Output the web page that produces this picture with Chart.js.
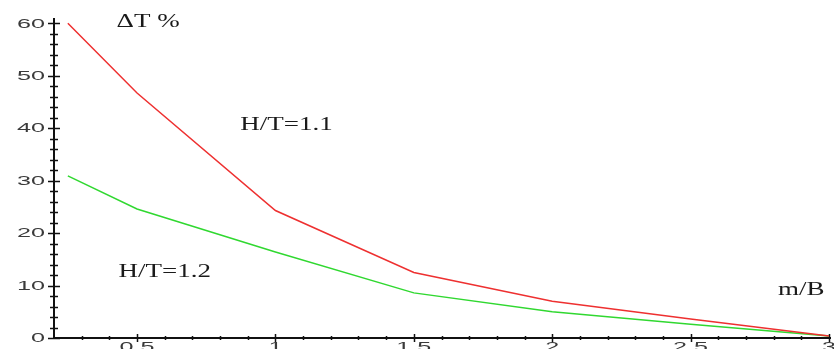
<!DOCTYPE html>
<html>
<head>
<meta charset="utf-8">
<script src="https://cdn.jsdelivr.net/npm/chart.js@4/dist/chart.umd.min.js"></script>
<style>
  html, body { margin: 0; padding: 0; background: #fff; overflow: hidden; }
  #chart { display: block; }
</style>
</head>
<body>
<canvas id="chart" width="834" height="349"></canvas>
<script>
// m/B values and delta T % for the two H/T ratios
var mb = [0.25, 0.5, 1, 1.5, 2, 2.5, 3];
var dtH11 = [60, 46.7, 24.3, 12.5, 7.0, 3.6, 0.4];
var dtH12 = [30.9, 24.6, 16.4, 8.6, 5.0, 2.6, 0.4];

var yTicks = [0, 10, 20, 30, 40, 50, 60];
var xTicks = [0.5, 1, 1.5, 2, 2.5, 3];
var xTickLabels = ["0.5", "1", "1.5", "2", "2.5", "3"];

var xMin = 0.2, xMax = 3, yMax = 61;

// text notes placed in data coordinates
var notes = [
    { text: "\u0394T %", x: 0.54, y: 60.2 },
    { text: "H/T=1.1", x: 1.04, y: 40.6 },
    { text: "H/T=1.2", x: 0.60, y: 12.6 },
    { text: "m/B", x: 2.90, y: 9.1 }
];

function toPoints(xs, ys) {
    return xs.map(function(v, i) { return { x: v, y: ys[i] }; });
}

function wideText(ctx, text, px, py, sx, align) {
    ctx.save();
    ctx.translate(px, py);
    ctx.scale(sx, 1);
    ctx.textAlign = align;
    ctx.fillText(text, 0, 0);
    ctx.restore();
}

var axesPlugin = {
    id: 'axes',
    beforeDatasetsDraw: function(chart) {
        var ctx = chart.ctx;
        var x = chart.scales.x, y = chart.scales.y;
        var x0 = x.getPixelForValue(xMin);
        var y0 = y.getPixelForValue(0);

        ctx.save();
        ctx.strokeStyle = '#111';
        ctx.lineWidth = 2;
        ctx.beginPath();
        ctx.moveTo(x0, y.getPixelForValue(yMax));
        ctx.lineTo(x0, y0);
        ctx.lineTo(x.getPixelForValue(xMax) + 2, y0);
        ctx.stroke();

        ctx.lineWidth = 1.5;
        ctx.beginPath();
        for (var v = 0; v <= 60; v += 2) {
            var p = Math.round(y.getPixelForValue(v)) + 0.5;
            var len = (v % 10 === 0) ? 6 : 4;
            ctx.moveTo(x0 - len, p);
            ctx.lineTo(x0 + len, p);
        }
        for (var k = 3; k <= 30; k++) {
            var q = Math.round(x.getPixelForValue(k / 10)) + 0.5;
            var l2 = (k % 5 === 0) ? 4 : 2;
            ctx.moveTo(q, y0 - l2);
            ctx.lineTo(q, y0 + l2);
        }
        ctx.stroke();

        // tick labels
        ctx.fillStyle = '#3a3a3a';
        ctx.font = '12px "Liberation Sans", Arial, sans-serif';
        ctx.textBaseline = 'middle';
        yTicks.forEach(function(t) {
            wideText(ctx, String(t), x0 - 9, y.getPixelForValue(t) + 1, 2.1, 'right');
        });
        ctx.textBaseline = 'top';
        xTicks.forEach(function(t, i) {
            wideText(ctx, xTickLabels[i], x.getPixelForValue(t), y0 + 4, 2.1, 'center');
        });

        // notes
        ctx.fillStyle = '#1a1a1a';
        ctx.font = '18px "Liberation Serif", "Times New Roman", serif';
        ctx.textBaseline = 'middle';
        notes.forEach(function(n) {
            wideText(ctx, n.text, x.getPixelForValue(n.x), y.getPixelForValue(n.y), 1.5, 'center');
        });
        ctx.restore();
    }
};

var canvas = document.getElementById("chart");
var chart = new Chart(canvas, {
    type: 'line',
    data: {
        datasets: [{
            label: "H/T=1.1",
            data: toPoints(mb, dtH11),
            borderColor: "#ee3030",
            borderWidth: 1.5,
            pointRadius: 0,
            tension: 0,
            clip: false
        }, {
            label: "H/T=1.2",
            data: toPoints(mb, dtH12),
            borderColor: "#30d830",
            borderWidth: 1.5,
            pointRadius: 0,
            tension: 0,
            clip: false
        }]
    },
    options: {
        responsive: false,
        animation: false,
        layout: { padding: { left: 54, top: 18, right: 5, bottom: 11 } },
        plugins: { legend: { display: false }, tooltip: { enabled: false } },
        scales: {
            x: { type: 'linear', display: false, min: xMin, max: xMax },
            y: { type: 'linear', display: false, min: 0, max: yMax }
        }
    },
    plugins: [axesPlugin]
});
</script>
</body>
</html>
